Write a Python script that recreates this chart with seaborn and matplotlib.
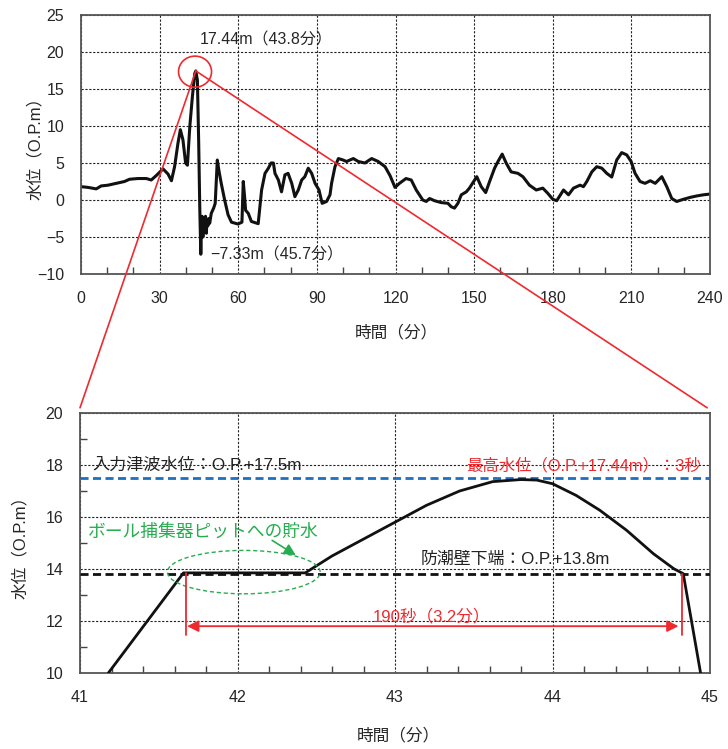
import numpy as np
import pandas as pd
import seaborn as sns
import matplotlib.pyplot as plt
from matplotlib.patches import Ellipse, ConnectionPatch
from matplotlib.ticker import MultipleLocator

# full record: time (min) vs water level (O.P. m)
T_FULL = [0, 2.7, 5.8, 7.7, 10.3, 13.5, 16.6, 18.5, 21.7, 24.9, 26.8, 28.7, 31.3, 33.2, 34.5,
          35.7, 37.0, 37.9, 38.9, 39.9, 40.6, 41.5, 42.5, 43.4, 43.8, 44.4, 44.9, 45.3, 45.7,
          46.0, 46.2, 46.5, 46.8, 47.2, 47.5, 47.8, 48.1, 48.4, 48.7, 49.1, 49.7, 50.6, 51.2,
          52.0, 52.6, 53.5, 54.8, 56.1, 57.4, 59.9, 61.4, 61.9, 62.4, 62.8, 63.8, 65.0, 67.6,
          68.9, 70.2, 71.5, 72.5, 73.4, 74.0, 75.3, 76.5, 77.8, 79.0, 80.4, 81.6, 82.9, 84.2,
          85.4, 86.7, 88.0, 89.3, 90.8, 92.0, 93.7, 95.0, 95.6, 96.9, 98.2, 100.0, 101.3, 103.9,
          105.8, 108.3, 110.9, 113.4, 116.0, 117.9, 119.8, 121.5, 124.0, 126.0, 127.9, 130.4,
          131.7, 133.0, 134.9, 137.4, 140.0, 141.2, 142.5, 143.8, 145.1, 147.0, 148.2, 149.8,
          151.0, 152.7, 154.4, 155.9, 157.8, 159.1, 160.7, 162.2, 164.1, 166.7, 168.6, 171.1,
          173.7, 176.2, 178.1, 180.0, 181.5, 184.1, 186.0, 187.9, 189.2, 190.4, 191.7, 193.0,
          194.9, 196.8, 198.7, 200.6, 202.5, 204.4, 206.3, 208.2, 209.9, 211.4, 213.3, 215.2,
          217.2, 219.1, 221.6, 223.5, 225.4, 227.3, 229.9, 232.4, 235.0, 237.5, 240.0]
H_FULL = [1.8, 1.7, 1.5, 1.9, 2.0, 2.25, 2.5, 2.8, 2.9, 2.9, 2.7, 3.3, 4.2, 3.5, 2.6,
          4.5, 7.7, 9.5, 8.1, 5.0, 4.7, 9.9, 14.0, 17.1, 17.44, 16.2, 7.7, -0.9, -7.33,
          -3.0, -2.2, -5.0, -2.5, -3.8, -2.2, -4.5, -2.8, -3.5, -2.5, -3.15, -1.8, -1.1, -0.45,
          5.4, 4.0, 2.25, 0.0, -2.0, -3.0, -3.25, -3.0, 2.5, 0.5, -1.4, -1.8, -2.9, -3.2,
          1.35, 3.6, 4.3, 5.0, 5.0, 3.6, 2.7, 1.1, 3.4, 3.6, 2.25, 0.45, 1.35, 2.7,
          3.15, 4.3, 3.6, 2.25, 1.35, -0.45, -0.2, 0.7, 2.25, 4.5, 5.6, 5.4, 5.2, 5.6,
          5.2, 5.0, 5.6, 5.2, 4.5, 3.3, 1.7, 2.25, 2.9, 2.7, 1.35, 0.0,
          -0.2, 0.2, -0.1, -0.35, -0.45, -0.9, -1.1, -0.45, 0.7, 1.1, 1.6, 2.5,
          3.15, 1.8, 1.0, 2.5, 4.3, 5.2, 6.2, 5.0, 3.8, 3.6, 3.15, 2.0,
          1.35, 1.6, 0.9, 0.1, -0.1, 1.35, 0.7, 1.6, 1.8, 2.0, 1.8, 2.5,
          3.8, 4.5, 4.3, 3.6, 3.1, 5.4, 6.4, 6.1, 5.2, 3.6, 2.5, 2.25,
          2.6, 2.25, 3.15, 1.8, 0.2, -0.2, 0.1, 0.35, 0.55, 0.7, 0.8]

# zoomed section around the peak
T_ZOOM = [41.18, 41.657, 42.43, 42.6, 42.8, 43.0, 43.2, 43.41, 43.62, 43.8, 43.9, 44.0,
          44.15, 44.3, 44.47, 44.64, 44.77, 44.83, 44.94]
H_ZOOM = [10.0, 13.85, 13.85, 14.5, 15.15, 15.8, 16.45, 17.0, 17.36, 17.44, 17.42, 17.28,
          16.83, 16.26, 15.49, 14.59, 14.01, 13.82, 10.0]

PEAK = (43.8, 17.44)
TROUGH = (45.7, -7.33)
INPUT_LEVEL = 17.5
WALL_BOTTOM = 13.8
OVER_START = 41.67
OVER_END = 44.82

RED = '#ee2a2f'
BLUE = '#1f6fc0'
GREEN = '#27ad4f'

sns.set_style('white')
plt.rcParams['font.family'] = ['Liberation Sans', 'Noto Sans CJK JP', 'DejaVu Sans']
plt.rcParams['axes.unicode_minus'] = True

fig = plt.figure(figsize=(7.28, 7.49), dpi=100)
ax1 = fig.add_axes([0.1113, 0.6342, 0.864, 0.3458])
ax2 = fig.add_axes([0.1099, 0.1015, 0.8654, 0.3471])

df_full = pd.DataFrame({'t': T_FULL, 'h': H_FULL})
df_zoom = pd.DataFrame({'t': T_ZOOM, 'h': H_ZOOM})

grid_kw = dict(color='#222222', linestyle=(0, (2, 1.5)), linewidth=0.8)

# top: whole record
sns.lineplot(data=df_full, x='t', y='h', ax=ax1, color='#111111', linewidth=2.2,
             estimator=None, sort=False)
ax1.set_xlim(0, 240)
ax1.set_ylim(-10, 25)
ax1.set_xticks(range(0, 241, 30))
ax1.set_yticks(range(-10, 26, 5))
ax1.xaxis.set_minor_locator(MultipleLocator(10))
ax1.grid(True, which='major', **grid_kw)
ax1.set_axisbelow(True)
ax1.set_xlabel('時間（分）', fontsize=12)
ax1.set_ylabel('水位（O.P.m）', fontsize=12)
ax1.xaxis.set_label_coords(0.502, -0.195)
ax1.yaxis.set_label_coords(-0.06, 0.5)
ax1.tick_params(axis='both', which='major', length=0, labelsize=11.5, pad=12)
ax1.tick_params(axis='x', which='minor', direction='in', length=5, width=1, color='#444444',
                bottom=True)
ax1.text(45.4, 21.6, '17.44m（43.8分）', fontsize=11.5, va='center', ha='left')
ax1.text(49.2, -7.45, '−7.33m（45.7分）', fontsize=11.5, va='center', ha='left')
ax1.add_patch(Ellipse((43.5, 17.34), 12.6, 4.2, fill=False, edgecolor=RED, linewidth=1.2,
                      zorder=5))

# bottom: zoom around the peak
sns.lineplot(data=df_zoom, x='t', y='h', ax=ax2, color='#111111', linewidth=2.0,
             estimator=None, sort=False, zorder=4)
ax2.set_xlim(41, 45)
ax2.set_ylim(10, 20)
ax2.set_xticks(range(41, 46))
ax2.set_yticks(range(10, 21, 2))
ax2.xaxis.set_minor_locator(MultipleLocator(0.2))
ax2.yaxis.set_minor_locator(MultipleLocator(1))
ax2.grid(True, which='major', **grid_kw)
ax2.set_axisbelow(True)
ax2.set_xlabel('時間（分）', fontsize=12)
ax2.set_ylabel('水位（O.P.m）', fontsize=12)
ax2.xaxis.set_label_coords(0.505, -0.21)
ax2.yaxis.set_label_coords(-0.083, 0.5)
ax2.tick_params(axis='both', which='major', length=0, labelsize=11.5, pad=12)
ax2.tick_params(axis='both', which='minor', direction='in', length=5, width=1,
                color='#444444', bottom=True, left=True)

ax2.axhline(INPUT_LEVEL, color=BLUE, linewidth=2, linestyle=(0, (2.9, 1.6)), zorder=3)
ax2.axhline(WALL_BOTTOM, color='#111111', linewidth=2, linestyle=(0, (2.9, 1.6)), zorder=3)

ax2.text(41.08, 17.98, '入力津波水位：O.P.+17.5m', fontsize=12.3, va='center', ha='left',
         color='#222222', zorder=6)
ax2.text(44.94, 17.98, '最高水位（O.P.+17.44m）：3秒', fontsize=11.8, va='center', ha='right',
         color=RED, zorder=6)
ax2.text(43.16, 14.35, '防潮壁下端：O.P.+13.8m', fontsize=12.2, va='center', ha='left',
         color='#222222', zorder=6)
ax2.text(41.05, 15.42, 'ボール捕集器ピットへの貯水', fontsize=12.8, va='center', ha='left',
         color=GREEN, zorder=6)
ax2.add_patch(Ellipse((42.04, 13.88), 0.97, 1.67, fill=False, edgecolor=GREEN,
                      linewidth=1, linestyle=(0, (3, 2)), zorder=5))
ax2.annotate('', xy=(42.37, 14.53), xytext=(42.22, 15.1),
             arrowprops=dict(arrowstyle='-|>', color=GREEN, lw=1.2, mutation_scale=17,
                             shrinkA=0, shrinkB=0), zorder=6)

ax2.plot([OVER_START, OVER_START], [13.85, 11.47], color=RED, linewidth=1.3, zorder=5)
ax2.plot([OVER_END, OVER_END], [13.8, 11.47], color=RED, linewidth=1.3, zorder=5)
ax2.annotate('', xy=(OVER_END - 0.02, 11.8), xytext=(OVER_START + 0.01, 11.8),
             arrowprops=dict(arrowstyle='<|-|>', color=RED, lw=1.3, mutation_scale=17,
                             shrinkA=0, shrinkB=0), zorder=6)
ax2.text(43.23, 11.88, '190秒（3.2分）', fontsize=12, va='bottom', ha='center', color=RED,
         zorder=6)

for ax in (ax1, ax2):
    for s in ax.spines.values():
        s.set_color('#555555')
        s.set_linewidth(1.3)

# red lines linking the peak to the zoomed panel
for xb in (0.0, 0.9955):
    con = ConnectionPatch(xyA=PEAK, coordsA=ax1.transData, xyB=(xb, 1.02),
                          coordsB=ax2.transAxes, color=RED, linewidth=1.2, zorder=10)
    fig.add_artist(con)

fig.savefig('out.png', dpi=100)
